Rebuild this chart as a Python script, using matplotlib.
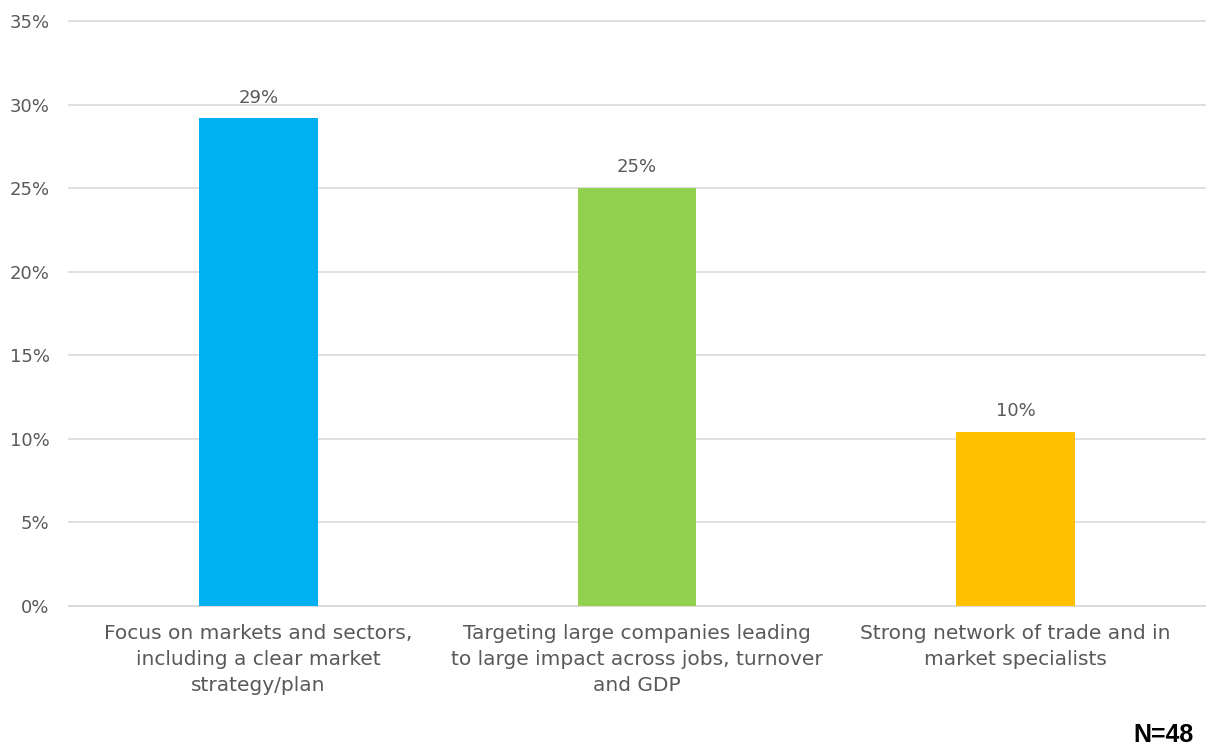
import matplotlib
matplotlib.use("Agg")
import matplotlib.pyplot as plt
from matplotlib.ticker import PercentFormatter

categories = [
    "Focus on markets and sectors,\nincluding a clear market\nstrategy/plan",
    "Targeting large companies leading\nto large impact across jobs, turnover\nand GDP",
    "Strong network of trade and in\nmarket specialists",
]
shares = [14 / 48, 12 / 48, 5 / 48]
bar_colors = ["#00B0F0", "#92D050", "#FFC000"]
y_ticks = [0, 0.05, 0.10, 0.15, 0.20, 0.25, 0.30, 0.35]
sample_note = "N=48"

text_gray = "#595959"
plt.rcParams["font.family"] = ["DejaVu Sans"]

fig = plt.figure(figsize=(12.08, 7.47), dpi=100)
ax = fig.add_axes([0.0571, 0.1888, 0.9405, 0.7831])

x = range(len(categories))
bars = ax.bar(x, shares, width=0.314, color=bar_colors, zorder=3)
for b, v in zip(bars, shares):
    ax.text(b.get_x() + b.get_width() / 2, v + 0.0095, f"{v:.0%}",
            ha="center", va="baseline", fontsize=13, color=text_gray)

ax.set_xlim(-0.5, 2.5)
ax.set_ylim(0, 0.35)
ax.set_yticks(y_ticks)
ax.yaxis.set_major_formatter(PercentFormatter(1.0, decimals=0))
ax.set_xticks(list(x))
ax.set_xticklabels(categories, fontsize=14.5, color=text_gray, linespacing=1.45)
ax.tick_params(axis="y", labelsize=13, labelcolor=text_gray, length=0, pad=14)
ax.tick_params(axis="x", length=0, pad=13)

ax.grid(axis="y", color="#D9D9D9", linewidth=1.2, zorder=0)
for gl in ax.get_ygridlines():
    gl.set_clip_on(False)
for side in ["left", "right", "top"]:
    ax.spines[side].set_visible(False)
ax.spines["bottom"].set_color("#D9D9D9")
ax.spines["bottom"].set_linewidth(1.2)

fig.text(0.9885, 0.0067, sample_note, ha="right", va="baseline",
         fontsize=18, fontweight="bold", color="black",
         family=["Liberation Sans", "DejaVu Sans"])

fig.savefig("out.png", dpi=100)
